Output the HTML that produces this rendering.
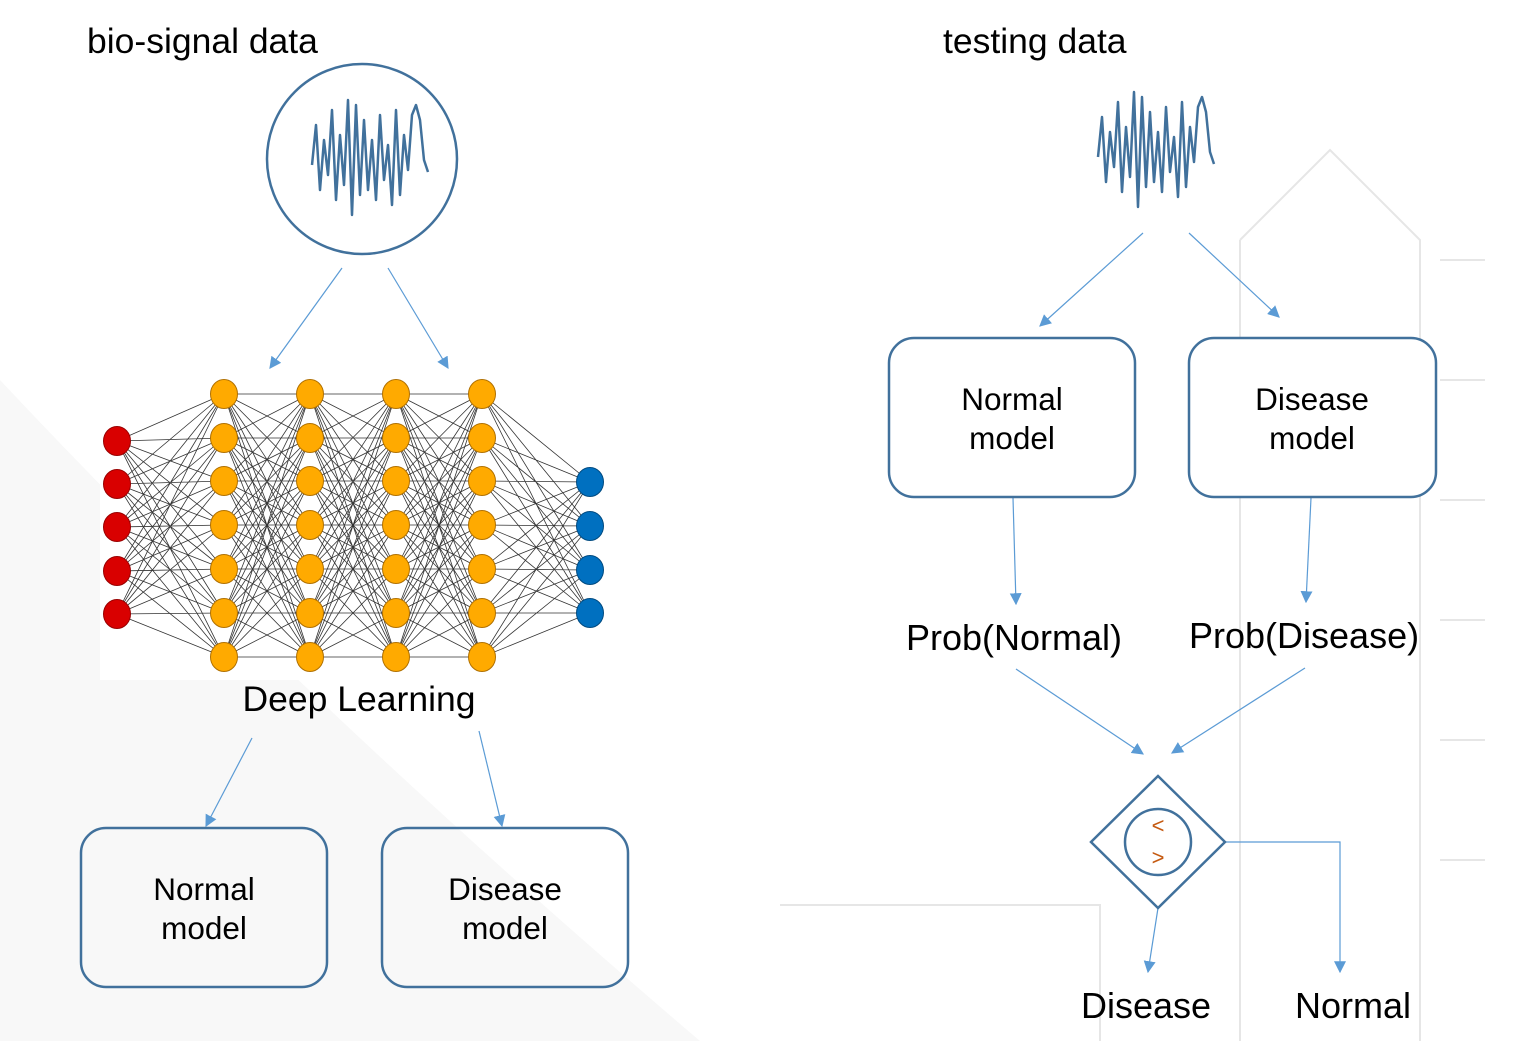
<!DOCTYPE html>
<html><head><meta charset="utf-8"><style>
html,body{margin:0;padding:0;background:#fff;}
svg{display:block;font-family:"Liberation Sans",Arial,sans-serif;}
</style></head><body>
<svg width="1536" height="1041" viewBox="0 0 1536 1041" xmlns="http://www.w3.org/2000/svg">
<defs>
<marker id="a" viewBox="0 0 10 10" refX="9" refY="5" markerWidth="12" markerHeight="12" markerUnits="userSpaceOnUse" orient="auto"><path d="M0,0L10,5L0,10z" fill="#5b9bd5"/></marker>
</defs>
<rect x="0" y="0" width="1536" height="1041" fill="#fff"/>
<path d="M0,380 Q300,700 700,1041 L0,1041Z" fill="#f8f8f8"/>
<g stroke="#e6e6e6" fill="none" stroke-width="2">
<path d="M1240,240 L1330,150 L1420,240 L1420,1041"/><path d="M1240,240 L1240,1041"/>
<path d="M780,905 L1100,905 L1100,1041"/><path d="M1440,260 L1485,260 M1440,380 L1485,380 M1440,500 L1485,500 M1440,620 L1485,620 M1440,740 L1485,740 M1440,860 L1485,860"/>
</g>
<rect x="100" y="378" width="505" height="302" fill="#fff"/>
<defs>
<path id="oo" d="M224,394L310,394M224,394L310,438M224,394L310,481M224,394L310,525M224,394L310,569M224,394L310,613M224,394L310,657
M224,438L310,394M224,438L310,438M224,438L310,481M224,438L310,525M224,438L310,569M224,438L310,613M224,438L310,657
M224,481L310,394M224,481L310,438M224,481L310,481M224,481L310,525M224,481L310,569M224,481L310,613M224,481L310,657
M224,525L310,394M224,525L310,438M224,525L310,481M224,525L310,525M224,525L310,569M224,525L310,613M224,525L310,657
M224,569L310,394M224,569L310,438M224,569L310,481M224,569L310,525M224,569L310,569M224,569L310,613M224,569L310,657
M224,613L310,394M224,613L310,438M224,613L310,481M224,613L310,525M224,613L310,569M224,613L310,613M224,613L310,657
M224,657L310,394M224,657L310,438M224,657L310,481M224,657L310,525M224,657L310,569M224,657L310,613M224,657L310,657"/>
</defs>
<g stroke="#333" stroke-width="0.8" fill="none">
<use href="#oo"/><use href="#oo" transform="translate(86,0)"/><use href="#oo" transform="translate(172,0)"/>
<path d="M117,441L224,394M117,441L224,438M117,441L224,481M117,441L224,525M117,441L224,569M117,441L224,613M117,441L224,657
M117,484L224,394M117,484L224,438M117,484L224,481M117,484L224,525M117,484L224,569M117,484L224,613M117,484L224,657
M117,527L224,394M117,527L224,438M117,527L224,481M117,527L224,525M117,527L224,569M117,527L224,613M117,527L224,657
M117,571L224,394M117,571L224,438M117,571L224,481M117,571L224,525M117,571L224,569M117,571L224,613M117,571L224,657
M117,614L224,394M117,614L224,438M117,614L224,481M117,614L224,525M117,614L224,569M117,614L224,613M117,614L224,657"/>
<path d="M482,394L590,482M482,394L590,526M482,394L590,570M482,394L590,613
M482,438L590,482M482,438L590,526M482,438L590,570M482,438L590,613
M482,481L590,482M482,481L590,526M482,481L590,570M482,481L590,613
M482,525L590,482M482,525L590,526M482,525L590,570M482,525L590,613
M482,569L590,482M482,569L590,526M482,569L590,570M482,569L590,613
M482,613L590,482M482,613L590,526M482,613L590,570M482,613L590,613
M482,657L590,482M482,657L590,526M482,657L590,570M482,657L590,613"/>
</g>
<g fill="#d90000" stroke="#900">
<ellipse cx="117" cy="441" rx="13.5" ry="14.5"/><ellipse cx="117" cy="484" rx="13.5" ry="14.5"/><ellipse cx="117" cy="527" rx="13.5" ry="14.5"/><ellipse cx="117" cy="571" rx="13.5" ry="14.5"/><ellipse cx="117" cy="614" rx="13.5" ry="14.5"/>
</g>
<defs><g id="oc" fill="#ffaa00" stroke="#b07000">
<ellipse cx="224" cy="394" rx="13.5" ry="14.5"/><ellipse cx="224" cy="438" rx="13.5" ry="14.5"/><ellipse cx="224" cy="481" rx="13.5" ry="14.5"/><ellipse cx="224" cy="525" rx="13.5" ry="14.5"/><ellipse cx="224" cy="569" rx="13.5" ry="14.5"/><ellipse cx="224" cy="613" rx="13.5" ry="14.5"/><ellipse cx="224" cy="657" rx="13.5" ry="14.5"/>
</g></defs>
<use href="#oc"/><use href="#oc" transform="translate(86,0)"/><use href="#oc" transform="translate(172,0)"/><use href="#oc" transform="translate(258,0)"/>
<g fill="#0070c0" stroke="#004a80">
<ellipse cx="590" cy="482" rx="13.5" ry="14.5"/><ellipse cx="590" cy="526" rx="13.5" ry="14.5"/><ellipse cx="590" cy="570" rx="13.5" ry="14.5"/><ellipse cx="590" cy="613" rx="13.5" ry="14.5"/>
</g>
<text x="87" y="53" font-size="35.5" fill="#000">bio-signal data</text>
<text x="943" y="53" font-size="35.5" fill="#000">testing data</text>
<circle cx="362" cy="159" r="95" fill="#fff" stroke="#41719c" stroke-width="2.5"/>
<defs><polyline id="wv" fill="none" stroke="#41719c" stroke-width="2.5" stroke-linejoin="round" points="312,165 316,125 320,190 324,140 328,175 332,110 336,200 340,135 344,185 348,100 352,215 356,105 360,195 364,120 368,190 372,140 376,200 380,115 384,180 388,145 392,205 396,110 400,195 404,135 408,170 412,115 416,105 420,120 424,160 428,172"/></defs>
<use href="#wv"/><use href="#wv" transform="translate(786,-8)"/>
<text x="359" y="711" font-size="35.5" text-anchor="middle">Deep Learning</text>
<g stroke="#5b9bd5" stroke-width="1.2" fill="none" marker-end="url(#a)">
<line x1="342" y1="268" x2="270" y2="368"/>
<line x1="388" y1="268" x2="448" y2="368"/>
<line x1="252" y1="738" x2="206" y2="826"/>
<line x1="479" y1="731" x2="502" y2="826"/>
<line x1="1143" y1="233" x2="1040" y2="326"/>
<line x1="1189" y1="233" x2="1279" y2="317"/>
<line x1="1013" y1="498" x2="1016" y2="604"/>
<line x1="1311" y1="498" x2="1306" y2="602"/>
<line x1="1016" y1="669" x2="1143" y2="754"/>
<line x1="1305" y1="668" x2="1172" y2="753"/>
<line x1="1158" y1="908" x2="1148" y2="972"/>
<polyline points="1225,842 1340,842 1340,972"/>
</g>
<g fill="none" stroke="#41719c" stroke-width="2.5">
<rect x="81" y="828" width="246" height="159" rx="25"/>
<rect x="382" y="828" width="246" height="159" rx="25"/>
<rect x="889" y="338" width="246" height="159" rx="25" fill="#fff"/>
<rect x="1189" y="338" width="247" height="159" rx="25" fill="#fff"/>
<path d="M1158,776 L1225,842 L1158,908 L1091,842Z" fill="#fff"/>
<circle cx="1158" cy="842" r="33"/>
</g>
<g font-size="31.5" text-anchor="middle">
<text x="204" y="900">Normal</text><text x="204" y="939">model</text>
<text x="505" y="900">Disease</text><text x="505" y="939">model</text>
<text x="1012" y="410">Normal</text><text x="1012" y="449">model</text>
<text x="1312" y="410">Disease</text><text x="1312" y="449">model</text>
</g>
<g font-size="36">
<text x="906" y="650">Prob(Normal)</text>
<text x="1189" y="648">Prob(Disease)</text>
<text x="1081" y="1018">Disease</text>
<text x="1295" y="1018">Normal</text>
</g>
<g fill="#c55a11" font-size="22" text-anchor="middle"><text x="1158" y="833">&lt;</text><text x="1158" y="865">&gt;</text></g>
</svg>
</body></html>
